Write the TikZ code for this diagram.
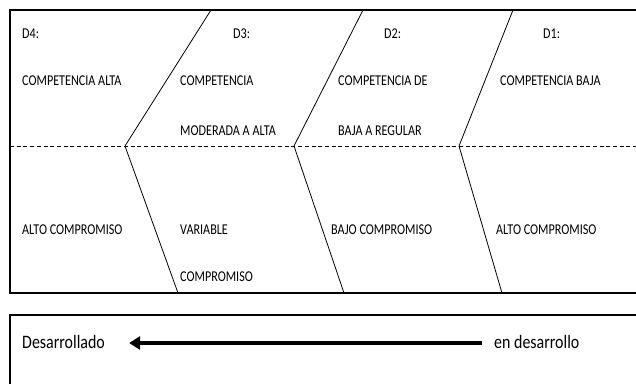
\documentclass[tikz,border=0pt]{standalone}
\usepackage{fontspec}
\setmainfont{Carlito}[FakeStretch=0.81]
\newfontfamily\bigfam{Carlito}[FakeStretch=0.84]
\usetikzlibrary{arrows.meta}
\begin{document}
\begin{tikzpicture}[x=1pt,y=-1pt,
  frame/.style={line width=1.3pt,black},
  divider/.style={line width=0.8pt,black},
  dashline/.style={line width=0.9pt,dash pattern=on 4pt off 2.7pt},
  lbl/.style={anchor=base west,inner sep=0pt,font=\fontsize{15}{17}\selectfont},
  blbl/.style={anchor=base west,inner sep=0pt,font=\bigfam\fontsize{19}{21}\selectfont},
  bigarrow/.style={line width=4pt,-{Triangle[length=11pt,width=13pt]}}]
\useasboundingbox (0,0) rectangle (636,384);
% upper table
\draw[frame] (636,10) -- (10,10) -- (10,293) -- (636,293);
\draw[dashline] (10,146) -- (636,146);
\draw[divider] (211,10) -- (125,146) -- (178,293);
\draw[divider] (363,10) -- (294,146) -- (344,293);
\draw[divider] (513,10) -- (459,146) -- (502,293);
% texts upper half
\node[lbl] (d4) at (22,38.3) {D4:};
\node[lbl] (d3) at (233,38.3) {D3:};
\node[lbl] (d2) at (384,38.3) {D2:};
\node[lbl] (d1) at (543,38.3) {D1:};
\node[lbl] (c4) at (22,85.6) {COMPETENCIA ALTA};
\node[lbl] (c3a) at (180,85.6) {COMPETENCIA};
\node[lbl] (c3b) at (180,135.6) {MODERADA A ALTA};
\node[lbl] (c2a) at (338,85.6) {COMPETENCIA DE};
\node[lbl] (c2b) at (338,135.6) {BAJA A REGULAR};
\node[lbl] (c1) at (500,85.6) {COMPETENCIA BAJA};
% texts lower half
\node[lbl] (k4) at (22,234.3) {ALTO COMPROMISO};
\node[lbl] (k3a) at (180,234.3) {VARIABLE};
\node[lbl] (k3b) at (180,281.7) {COMPROMISO};
\node[lbl] (k2) at (331,234.3) {BAJO COMPROMISO};
\node[lbl] (k1) at (496,234.3) {ALTO COMPROMISO};
% lower box
\draw[frame] (10,384) -- (10,315) -- (636,315);
\node[blbl] (des) at (22,348) {Desarrollado};
\node[blbl] (en) at (494,348) {en desarrollo};
\draw[bigarrow,shorten <=12pt,shorten >=24pt] ([yshift=-1.5pt]en.west) -- ([yshift=-1.5pt]des.east);
\end{tikzpicture}
\end{document}
